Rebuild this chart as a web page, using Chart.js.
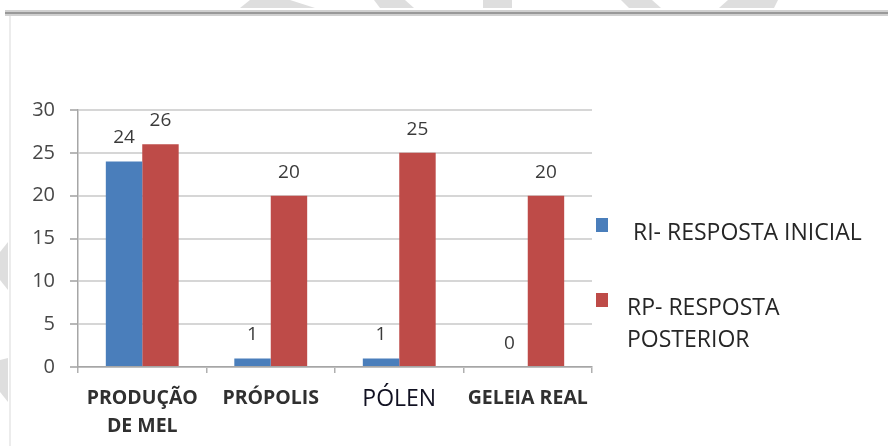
<!DOCTYPE html>
<html>
<head>
<meta charset="utf-8">
<script src="https://cdn.jsdelivr.net/npm/chart.js@4/dist/chart.umd.min.js"></script>
<style>
  html, body { margin: 0; padding: 0; background: #fff; }
  #wrap { width: 888px; height: 446px; }
</style>
</head>
<body>
<div id="wrap"><canvas id="produtos-chart" width="888" height="446"></canvas></div>
<script>
var categorias = [['PRODUÇÃO', 'DE MEL'], 'PRÓPOLIS', 'PÓLEN', 'GELEIA REAL'];
var respostaInicial = [24, 1, 1, 0];
var respostaPosterior = [26, 20, 25, 20];
var nomesSeries = [' RI- RESPOSTA INICIAL', 'RP- RESPOSTA POSTERIOR'];
var legendaLinhas = [[' RI- RESPOSTA INICIAL'], ['RP- RESPOSTA', 'POSTERIOR']];
var yTicks = [0, 5, 10, 15, 20, 25, 30];

// faint watermark pieces seen behind the picture
var marcaDagua = [
    [[250, 0], [290, 0], [315, 8], [240, 8]],
    [[374, 0], [405, 0], [414, 8], [380, 8]],
    [[483, 0], [512, 0], [512, 8], [483, 8]],
    [[621, 0], [652, 0], [661, 8], [629, 8]],
    [[728, 0], [778, 0], [774, 8], [719, 8]],
    [[0, 252], [8, 242], [8, 290], [0, 280]],
    [[0, 360], [8, 358], [8, 402], [0, 392]]
];

var fundo = {
    id: 'fundo',
    beforeDraw: function(chart) {
        var ctx = chart.ctx;
        ctx.save();
        ctx.fillStyle = '#fff';
        ctx.fillRect(0, 0, chart.width, chart.height);
        ctx.fillStyle = '#dedede';
        marcaDagua.forEach(function(p) {
            ctx.beginPath();
            ctx.moveTo(p[0][0], p[0][1]);
            for (var i = 1; i < p.length; i++) ctx.lineTo(p[i][0], p[i][1]);
            ctx.closePath();
            ctx.fill();
        });
        // frame line at top, faint line on the left
        ctx.fillStyle = '#d0d0d0';
        ctx.fillRect(5, 10, chart.width - 5, 6);
        ctx.fillStyle = '#999999';
        ctx.fillRect(5, 12, chart.width - 5, 2);
        ctx.fillStyle = '#ececec';
        ctx.fillRect(9, 16, 2, chart.height - 16);
        ctx.restore();
    }
};

var rotulosValores = {
    id: 'rotulosValores',
    afterDatasetsDraw: function(chart) {
        var ctx = chart.ctx;
        ctx.save();
        ctx.font = '19px "Open Sans"';
        ctx.fillStyle = '#3a3a3a';
        ctx.textAlign = 'center';
        ctx.textBaseline = 'alphabetic';
        chart.data.datasets.forEach(function(ds, i) {
            chart.getDatasetMeta(i).data.forEach(function(bar, j) {
                ctx.fillText(String(ds.data[j]), bar.x, bar.y - 18);
            });
        });
        ctx.restore();
    }
};

var legenda = {
    id: 'legenda',
    afterDraw: function(chart) {
        var ctx = chart.ctx;
        var area = chart.chartArea;
        var sqX = area.right + 4;
        var txtX = area.right + 35;
        var tops = [area.top + 108, area.top + 183];
        ctx.save();
        ctx.font = '23px "Open Sans"';
        ctx.textAlign = 'left';
        ctx.textBaseline = 'middle';
        chart.data.datasets.forEach(function(ds, i) {
            ctx.fillStyle = ds.backgroundColor;
            ctx.fillRect(sqX, tops[i], 12, 14);
            ctx.fillStyle = '#262626';
            legendaLinhas[i].forEach(function(linha, k) {
                ctx.fillText(linha, txtX, tops[i] + 15 + k * 32);
            });
        });
        ctx.restore();
    }
};

var ctx = document.getElementById('produtos-chart').getContext('2d');
var myBarChart = new Chart(ctx, {
    type: 'bar',
    data: {
        labels: categorias,
        datasets: [{
            label: nomesSeries[0],
            data: respostaInicial,
            backgroundColor: '#4a7ebb',
            borderWidth: 0
        }, {
            label: nomesSeries[1],
            data: respostaPosterior,
            backgroundColor: '#be4b48',
            borderWidth: 0
        }]
    },
    options: {
        responsive: false,
        animation: false,
        layout: { padding: { top: 110, right: 296, bottom: 0, left: 0 } },
        datasets: { bar: { categoryPercentage: 0.567, barPercentage: 1 } },
        plugins: {
            legend: { display: false },
            tooltip: { enabled: false }
        },
        scales: {
            x: {
                afterFit: function(s) { s.height = 79; },
                grid: {
                    display: true,
                    drawOnChartArea: false,
                    offset: true,
                    tickLength: 6,
                    color: '#b0b0b0',
                    lineWidth: 1.5
                },
                border: { display: true, color: '#a6a6a6', width: 1.5 },
                ticks: {
                    padding: 12,
                    maxRotation: 0,
                    autoSkip: false,
                    font: function(c) {
                        if (c.index === 2) {
                            return { family: 'Open Sans', size: 23, weight: 'normal', lineHeight: 1.25 };
                        }
                        return { family: 'Open Sans', size: 19.5, weight: 'bold', lineHeight: 1.42 };
                    },
                    color: function(c) { return c.index === 2 ? '#111122' : '#303030'; }
                }
            },
            y: {
                min: 0,
                max: 30,
                afterFit: function(s) { s.width = 78; },
                afterBuildTicks: function(s) {
                    s.ticks = yTicks.map(function(v) { return { value: v }; });
                },
                grid: {
                    color: '#d6d6d6',
                    lineWidth: 2,
                    tickLength: 8,
                    tickColor: '#b8b8b8'
                },
                border: { display: true, color: '#a6a6a6', width: 1.5 },
                ticks: {
                    padding: 15,
                    color: '#474747',
                    font: { family: 'Open Sans', size: 20 }
                }
            }
        }
    },
    plugins: [fundo, rotulosValores, legenda]
});
</script>
</body>
</html>
